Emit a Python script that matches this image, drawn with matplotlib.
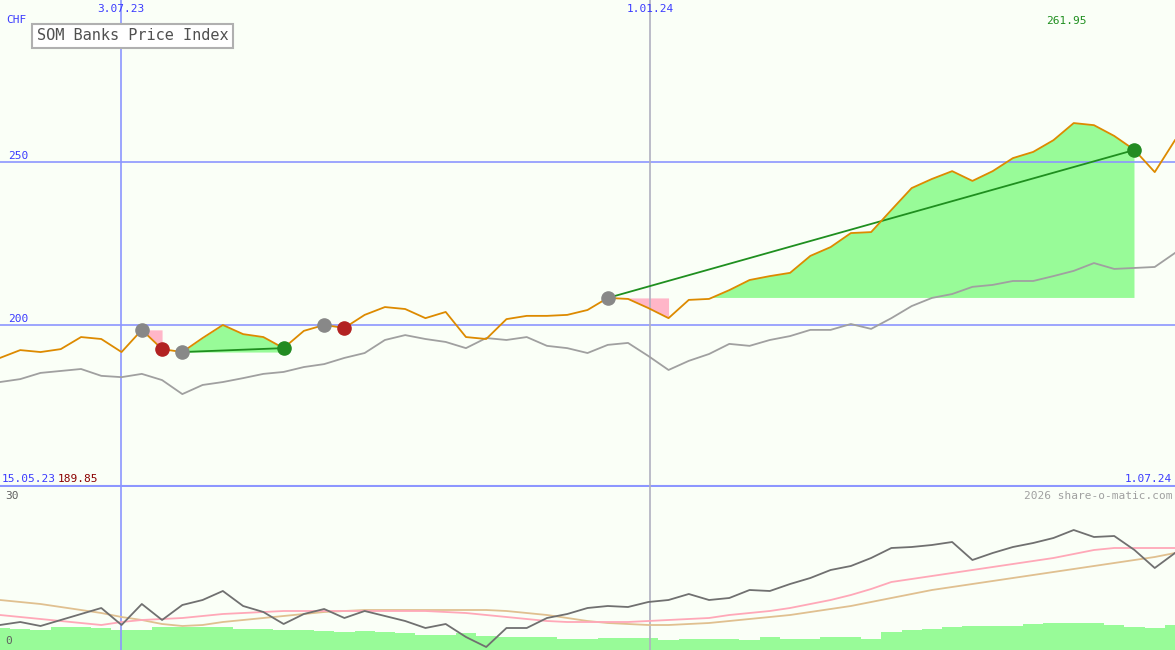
import numpy as np
import matplotlib
matplotlib.use("Agg")
import matplotlib.pyplot as plt

# weekly points, 15.05.23 .. 1.07.24
price = [189.9, 192.3, 191.7, 192.6, 196.3, 195.7, 191.7, 198.5, 192.6, 191.7,
         196.0, 200.0, 197.2, 196.3, 192.9, 198.2, 200.0, 199.1, 203.1, 205.5,
         204.9, 202.1, 204.0, 196.3, 195.7, 201.8, 202.8, 202.8, 203.1, 204.6,
         208.3, 208.0, 205.2, 202.1, 207.7, 208.0, 210.7, 213.8, 215.0, 216.0,
         221.2, 223.9, 228.2, 228.5, 235.3, 242.0, 244.8, 247.2, 244.2, 247.2,
         251.2, 253.1, 256.7, 261.95, 261.3, 258.0, 253.7, 246.9, 256.7]
bench = [182.5, 183.4, 185.3, 185.9, 186.5, 184.4, 184.0, 185.0, 183.1, 178.8,
         181.6, 182.5, 183.7, 185.0, 185.6, 187.1, 188.0, 189.9, 191.4, 195.4,
         196.9, 195.7, 194.8, 192.9, 196.0, 195.4, 196.3, 193.6, 192.9, 191.4,
         193.9, 194.5, 190.5, 186.2, 189.0, 191.1, 194.2, 193.6, 195.4, 196.6,
         198.5, 198.5, 200.3, 198.8, 202.1, 205.8, 208.3, 209.5, 211.7, 212.3,
         213.5, 213.5, 215.0, 216.6, 219.0, 217.2, 217.5, 217.8, 222.1]
osc = [4.0, 4.6, 3.8, 5.0, 6.2, 7.4, 4.0, 8.2, 5.0, 8.0,
       9.0, 10.8, 7.8, 6.6, 4.2, 6.2, 7.2, 5.4, 6.8, 5.8,
       4.8, 3.4, 4.2, 1.6, -0.4, 3.4, 3.4, 5.4, 6.2, 7.4,
       7.8, 7.6, 8.6, 9.0, 10.2, 9.0, 9.4, 11.0, 10.8, 12.2,
       13.4, 15.0, 15.8, 17.4, 19.4, 19.6, 20.0, 20.6, 17.0, 18.4,
       19.6, 20.4, 21.4, 23.0, 21.6, 21.8, 19.0, 15.4, 18.4]
osc_fast = [6.0, 5.6, 5.2, 4.8, 4.4, 4.0, 4.6, 5.0, 5.2, 5.4,
            5.8, 6.2, 6.4, 6.6, 6.8, 6.8, 6.8, 6.8, 6.8, 6.8,
            6.8, 6.8, 6.6, 6.4, 6.0, 5.6, 5.2, 4.8, 4.6, 4.6,
            4.6, 4.6, 4.8, 5.0, 5.2, 5.4, 6.0, 6.4, 6.8, 7.4,
            8.2, 9.0, 10.0, 11.2, 12.6, 13.2, 13.8, 14.4, 15.0, 15.6,
            16.2, 16.8, 17.4, 18.2, 19.0, 19.4, 19.4, 19.4, 19.4]
osc_slow = [9.0, 8.6, 8.2, 7.6, 7.0, 6.4, 5.6, 5.0, 4.2, 3.8,
            4.0, 4.6, 5.0, 5.4, 5.8, 6.2, 6.6, 6.8, 7.0, 7.0,
            7.0, 7.0, 7.0, 7.0, 7.0, 6.8, 6.4, 6.0, 5.4, 4.8,
            4.4, 4.2, 4.0, 4.0, 4.2, 4.4, 4.8, 5.2, 5.6, 6.0,
            6.6, 7.2, 7.8, 8.6, 9.4, 10.2, 11.0, 11.6, 12.2, 12.8,
            13.4, 14.0, 14.6, 15.2, 15.8, 16.4, 17.0, 17.6, 18.4]
volume = [3.4, 3.2, 3.0, 3.6, 3.6, 3.4, 3.0, 3.0, 3.6, 3.6,
          3.6, 3.6, 3.2, 3.2, 3.0, 3.0, 2.8, 2.6, 2.8, 2.6,
          2.4, 2.0, 2.0, 2.4, 1.8, 1.6, 1.6, 1.6, 1.2, 1.2,
          1.4, 1.4, 1.4, 1.0, 1.2, 1.2, 1.2, 1.0, 1.6, 1.2,
          1.2, 1.6, 1.6, 1.2, 2.6, 3.0, 3.2, 3.6, 3.8, 3.8,
          3.8, 4.2, 4.4, 4.4, 4.4, 4.0, 3.6, 3.4, 4.0]

# signal markers (week index)
gray_pts = [7, 9, 16, 30]
red_pts = [8, 17]
green_pts = [14, 56]
trades = [(9, 14), (30, 56)]
losses = [(7, 8), (30, 33)]

bg = "#fafff7"
blue = "#8c96ff"
txt_blue = "#3b3bff"
mono = "DejaVu Sans Mono"

x = np.arange(len(price))
price = np.array(price)

fig = plt.figure(figsize=(11.75, 6.5), dpi=100, facecolor=bg)
ax = fig.add_axes([0, 163 / 650, 1, 487 / 650], facecolor=bg)
ax2 = fig.add_axes([0, 0, 1, 163 / 650], facecolor=bg)

for a in (ax, ax2):
    a.set_xlim(0, 58)
    a.set_xticks([])
    a.set_yticks([])
    for s in a.spines.values():
        s.set_visible(False)

ax.set_ylim(150.3, 299.7)
ax2.set_ylim(-1, 31.6)

# grid
for v in (250, 200):
    ax.axhline(v, color=blue, lw=1.2)
ax.axhline(150.5, color=blue, lw=1.5)
ax.axvline(5.97, color=blue, lw=1.2)
ax.axvline(32.1, color="#b0b0c0", lw=1.2)
ax2.axvline(5.97, color=blue, lw=1.2)
ax2.axvline(32.1, color="#b0b0c0", lw=1.2)

# winning / losing trade fills
for a, b in trades:
    xs = x[a:b + 1]
    base = price[a]
    ax.fill_between(xs, price[a:b + 1], base, where=price[a:b + 1] >= base,
                    interpolate=True, color="#98fb98", lw=0)
    ax.plot([a, b], [price[a], price[b]], color="#1f8f1f", lw=1.3, zorder=4)
for a, b in losses:
    xs = x[a:b + 1]
    ax.fill_between(xs, price[a:b + 1], price[a], where=price[a:b + 1] <= price[a],
                    interpolate=True, color="#ffb6c8", lw=0)

ax.plot(x, bench, color="#a0a0a0", lw=1.3, zorder=3)
ax.plot(x, price, color="#dd8a00", lw=1.3, zorder=5)

ax.scatter(gray_pts, price[gray_pts], s=90, color="#888888", zorder=6)
ax.scatter(red_pts, price[red_pts], s=90, color="#b22222", zorder=6)
ax.scatter(green_pts, price[green_pts], s=90, color="#228b22", zorder=6)

# lower panel
ax2.bar(x, np.array(volume) + 1, bottom=-1, width=1.0, color="#98fb98", lw=0)
ax2.plot(x, osc_slow, color="#e0c090", lw=1.3)
ax2.plot(x, osc_fast, color="#ffa8b8", lw=1.3)
ax2.plot(x, osc, color="#707070", lw=1.3)

# texts (figure pixel coords)
def ftxt(px, py, s, color=txt_blue, ha="left", size=8):
    fig.text(px / 1175, 1 - py / 650, s, color=color, ha=ha, va="center",
             family=mono, fontsize=size)

ftxt(6, 20, "CHF")
ftxt(121, 9, "3.07.23", ha="center")
ftxt(650, 9, "1.01.24", ha="center")
ftxt(1066, 21, "261.95", color="#1f8f1f", ha="center")
ftxt(8, 156, "250")
ftxt(8, 319, "200")
ftxt(2, 479, "15.05.23")
ftxt(58, 479, "189.85", color="#8b0000")
ftxt(1172, 479, "1.07.24", ha="right")
ftxt(1172, 496, "2026 share-o-matic.com", color="#a0a0a0", ha="right")
ftxt(5, 496, "30", color="#606060")
ftxt(5, 641, "0", color="#606060")
fig.text(37 / 1175, 1 - 36 / 650, "SOM Banks Price Index", color="#505050",
         family=mono, fontsize=11, va="center",
         bbox=dict(boxstyle="square,pad=0.3", fc="white", ec="#b0b0b0", lw=1.5))

fig.savefig("out.png", dpi=100, facecolor=bg)
